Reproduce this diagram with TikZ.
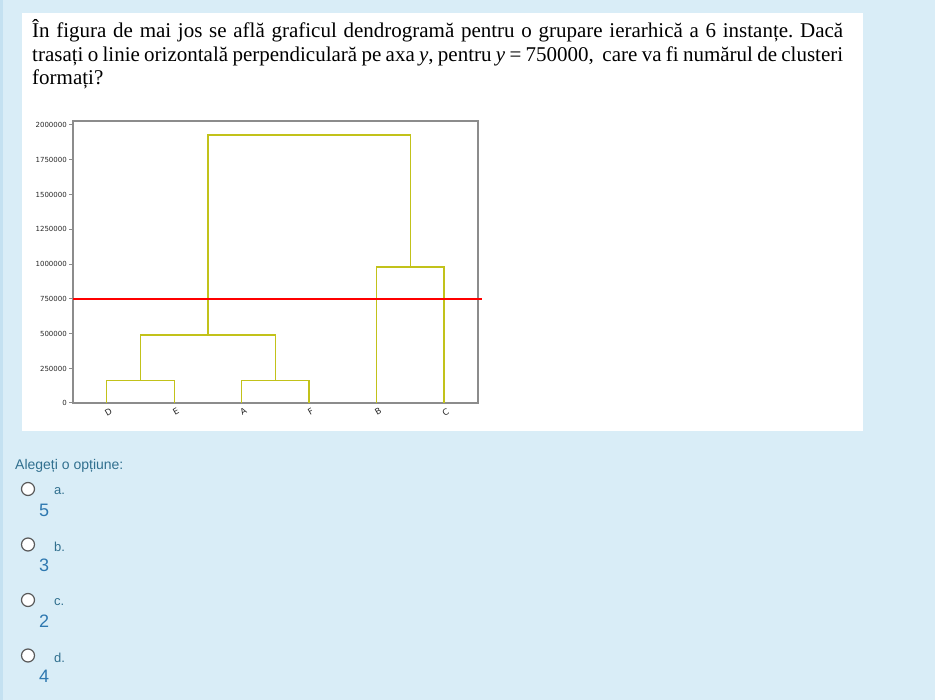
\documentclass[tikz,border=0pt]{standalone}
\usepackage{fontspec}
\setmainfont{Liberation Serif}
\newfontfamily\uifont{Liberation Sans}
\newfontfamily\plotfont{DejaVu Sans}
\usepackage{xcolor}
\usepackage{tikz}
\usetikzlibrary{positioning}
\definecolor{pagebg}{HTML}{D9EDF7}
\definecolor{pageedge}{HTML}{C4E1F1}
\definecolor{infotext}{HTML}{31708F}
\definecolor{answertext}{HTML}{2E78B0}
\definecolor{linkyellow}{HTML}{C2C21A}
\definecolor{spinegray}{HTML}{8C8C8C}
\definecolor{ticktext}{HTML}{262626}
\frenchspacing

\begin{document}
\begin{tikzpicture}[
    x=1pt, y=-1pt,
    question/.style={inner sep=0pt, text width=811pt, align=justify, font=\fontsize{21}{23.5}\selectfont, text=black},
    ytick/.style={anchor=east, inner sep=0pt, font=\plotfont\fontsize{7}{8}\selectfont, text=ticktext},
    leaf/.style={anchor=north, inner sep=0pt, rotate=30, font=\plotfont\fontsize{8.5}{9}\selectfont, text=ticktext},
    spine/.style={draw=spinegray, line width=1.3pt},
    tickmark/.style={spinegray, line width=1pt},
    link/.style={linkyellow, line width=1.4pt},
    cut/.style={red, line width=1.4pt},
    radio/.style={circle, draw=black!65, line width=1.2pt, fill=white, minimum size=13pt, inner sep=0pt},
    optletter/.style={anchor=west, inner sep=0pt, font=\uifont\fontsize{13}{15}\selectfont, text=infotext},
    optvalue/.style={anchor=west, inner sep=0pt, font=\uifont\fontsize{18}{20}\selectfont, text=answertext}
]

% Page background
\fill[pagebg] (0,0) rectangle (935,700);
\fill[pageedge] (0,0) rectangle (3,700);
\useasboundingbox (0,0) rectangle (935,700);
\fill[white] (22,13) rectangle (863,431);

% Question text
\node[question, anchor=base west] (question) at (32,38) {În figura de mai jos se află graficul dendrogramă pentru o grupare ierarhică a 6 instanțe. Dacă\linebreak trasați o linie orizontală perpendiculară pe axa \textit{y}, pentru \textit{y} = 750000,~ care va fi numărul de clusteri\linebreak formați?};

% Plot frame
\draw[spine] (73,121) rectangle (478,403);

% Y ticks
\draw[tickmark] (69,403) -- (73,403);
\draw[tickmark] (69,368.5) -- (73,368.5);
\draw[tickmark] (69,333.7) -- (73,333.7);
\draw[tickmark] (69,298.9) -- (73,298.9);
\draw[tickmark] (69,264.1) -- (73,264.1);
\draw[tickmark] (69,229.3) -- (73,229.3);
\draw[tickmark] (69,194.5) -- (73,194.5);
\draw[tickmark] (69,159.7) -- (73,159.7);
\draw[tickmark] (69,125) -- (73,125);
\node[ytick] (t0) at (67,403) {0};
\node[ytick] (t1) at (67,368.5) {250000};
\node[ytick] (t2) at (67,333.7) {500000};
\node[ytick] (t3) at (67,298.9) {750000};
\node[ytick] (t4) at (67,264.1) {1000000};
\node[ytick] (t5) at (67,229.3) {1250000};
\node[ytick] (t6) at (67,194.5) {1500000};
\node[ytick] (t7) at (67,159.7) {1750000};
\node[ytick] (t8) at (67,125) {2000000};

% Leaves
\coordinate (D) at (106.7,403);
\coordinate (E) at (174.2,403);
\coordinate (A) at (241.6,403);
\coordinate (F) at (309.1,403);
\coordinate (B) at (376.5,403);
\coordinate (C) at (444,403);
\node[leaf] (labD) at (106.7,409) {D};
\node[leaf] (labE) at (174.2,409) {E};
\node[leaf] (labA) at (241.6,409) {A};
\node[leaf] (labF) at (309.1,409) {F};
\node[leaf] (labB) at (376.5,409) {B};
\node[leaf] (labC) at (444,409) {C};

% Merge points
\coordinate (DE) at (140.45,380.5);
\coordinate (AF) at (275.35,380.5);
\coordinate (DEAF) at (207.9,335);
\coordinate (BC) at (410.25,267);
\coordinate (root) at (309.1,135);

% Dendrogram links
\draw[link] (D) |- (DE) -| (E);
\draw[link] (A) |- (AF) -| (F);
\draw[link] (DE) |- (DEAF) -| (AF);
\draw[link] (B) |- (BC) -| (C);
\draw[link] (DEAF) |- (root) -| (BC);

% Cut line at y = 750000
\coordinate (cutL) at (73,298.9);
\coordinate (cutR) at (482,298.9);
\draw[cut] (cutL) -- (cutR);

% Answer options
\node[anchor=base west, inner sep=0pt, font=\uifont\fontsize{14}{16}\selectfont, text=infotext] (prompt) at (15,470) {Alegeți o opțiune:};

\node[radio] (ra) at (28,489) {};
\node[optletter] (la) at (54,491) {a.};
\node[optvalue] (va) at (39,510) {5};

\node[radio] (rb) at (28,544.5) {};
\node[optletter] (lb) at (54,546.5) {b.};
\node[optvalue] (vb) at (39,565.5) {3};

\node[radio] (rc) at (28,600) {};
\node[optletter] (lc) at (54,602) {c.};
\node[optvalue] (vc) at (39,621) {2};

\node[radio] (rd) at (28,655.5) {};
\node[optletter] (ld) at (54,657.5) {d.};
\node[optvalue] (vd) at (39,676.5) {4};

\end{tikzpicture}
\end{document}
